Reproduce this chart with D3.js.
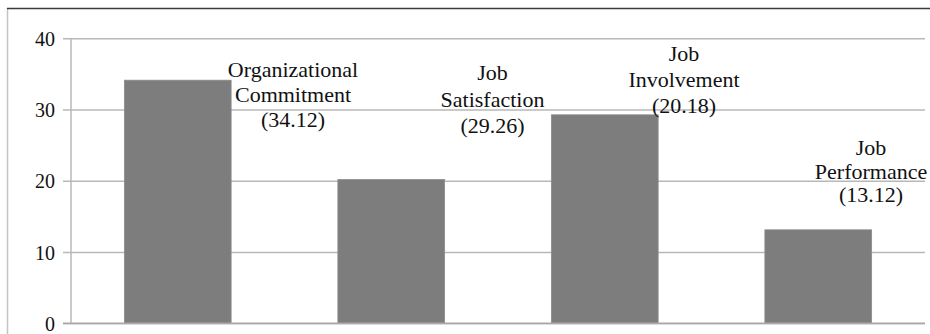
<!DOCTYPE html>
<html>
<head>
<meta charset="utf-8">
<script src="https://cdn.jsdelivr.net/npm/d3@7"></script>
<style>
  html, body { margin: 0; padding: 0; background: #fff; }
  svg { display: block; }
  text { font-family: "Liberation Serif", "DejaVu Serif", "Noto Serif", "Times New Roman", Times, serif; fill: #111; }
</style>
</head>
<body>
<svg id="chart" width="930" height="334"></svg>
<script>
// ---- data ----
const categories = ["Organizational Commitment", "Job Involvement", "Job Satisfaction", "Job Performance"];
const values = [34.12, 20.18, 29.26, 13.12];
const labelLines = [
  ["Organizational", "Commitment", "(34.12)"],
  ["Job", "Involvement", "(20.18)"],
  ["Job", "Satisfaction", "(29.26)"],
  ["Job", "Performance", "(13.12)"]
];
const yTicks = [0, 10, 20, 30, 40];

// ---- layout (label anchor positions in pixels: center x, first baseline, line step) ----
const labelLayout = [
  { x: 293, y: 77, step: 25 },
  { x: 684, y: 61, step: 26 },
  { x: 492.5, y: 80, step: 26.5 },
  { x: 871, y: 155, step: 23.5 }
];

const svg = d3.select("#chart");
const plot = { left: 71, right: 925, top: 38.3, bottom: 323.3 };

const x = d3.scaleBand().domain(categories).range([plot.left, plot.right])
  .paddingInner(0.5).paddingOuter(0.25);
const y = d3.scaleLinear().domain([0, 40]).range([plot.bottom, plot.top]);

// frame
svg.append("line").attr("x1", 7.5).attr("x2", 7.5).attr("y1", 8).attr("y2", 334)
  .attr("stroke", "#c4c4c4").attr("stroke-width", 1.5);
svg.append("line").attr("x1", 7).attr("x2", 930).attr("y1", 8.5).attr("y2", 8.5)
  .attr("stroke", "#3a3a3a").attr("stroke-width", 1.5);

// gridlines + ticks via axis
const yAxis = d3.axisLeft(y).tickValues(yTicks).tickSize(-(plot.right - plot.left)).tickPadding(16).tickFormat(d3.format("d"));
const gAxis = svg.append("g").attr("transform", `translate(${plot.left},0)`).call(yAxis);
gAxis.attr("font-family", null);
gAxis.select(".domain").remove();
gAxis.selectAll(".tick line").attr("stroke", "#b8b8b8").attr("stroke-width", 1.5)
  .attr("x1", -8);
gAxis.selectAll(".tick text")
  .attr("font-size", 20)
  .attr("fill", "#111")
  .attr("dy", "0.35em")
  .attr("x", -16);

// vertical axis line
svg.append("line").attr("x1", plot.left).attr("x2", plot.left).attr("y1", plot.top).attr("y2", plot.bottom)
  .attr("stroke", "#b8b8b8").attr("stroke-width", 1.5);

// bars
svg.append("g").selectAll("rect").data(values).join("rect")
  .attr("x", (d, i) => x(categories[i]))
  .attr("width", x.bandwidth())
  .attr("y", d => y(d))
  .attr("height", d => y(0) - y(d))
  .attr("fill", "#7d7d7d")
  .attr("stroke", "#8c8c8c")
  .attr("stroke-width", 0.8);

// baseline
svg.append("line").attr("x1", plot.left - 8).attr("x2", plot.right).attr("y1", plot.bottom).attr("y2", plot.bottom)
  .attr("stroke", "#a8a8a8").attr("stroke-width", 1.5);

// data labels
const lg = svg.append("g");
labelLines.forEach((lines, i) => {
  const L = labelLayout[i];
  lines.forEach((t, j) => {
    lg.append("text")
      .attr("transform", `translate(${L.x},${L.y + j * L.step}) scale(1.1,1)`)
      .attr("text-anchor", "middle")
      .attr("font-size", 20)
      .text(t);
  });
});
</script>
</body>
</html>
